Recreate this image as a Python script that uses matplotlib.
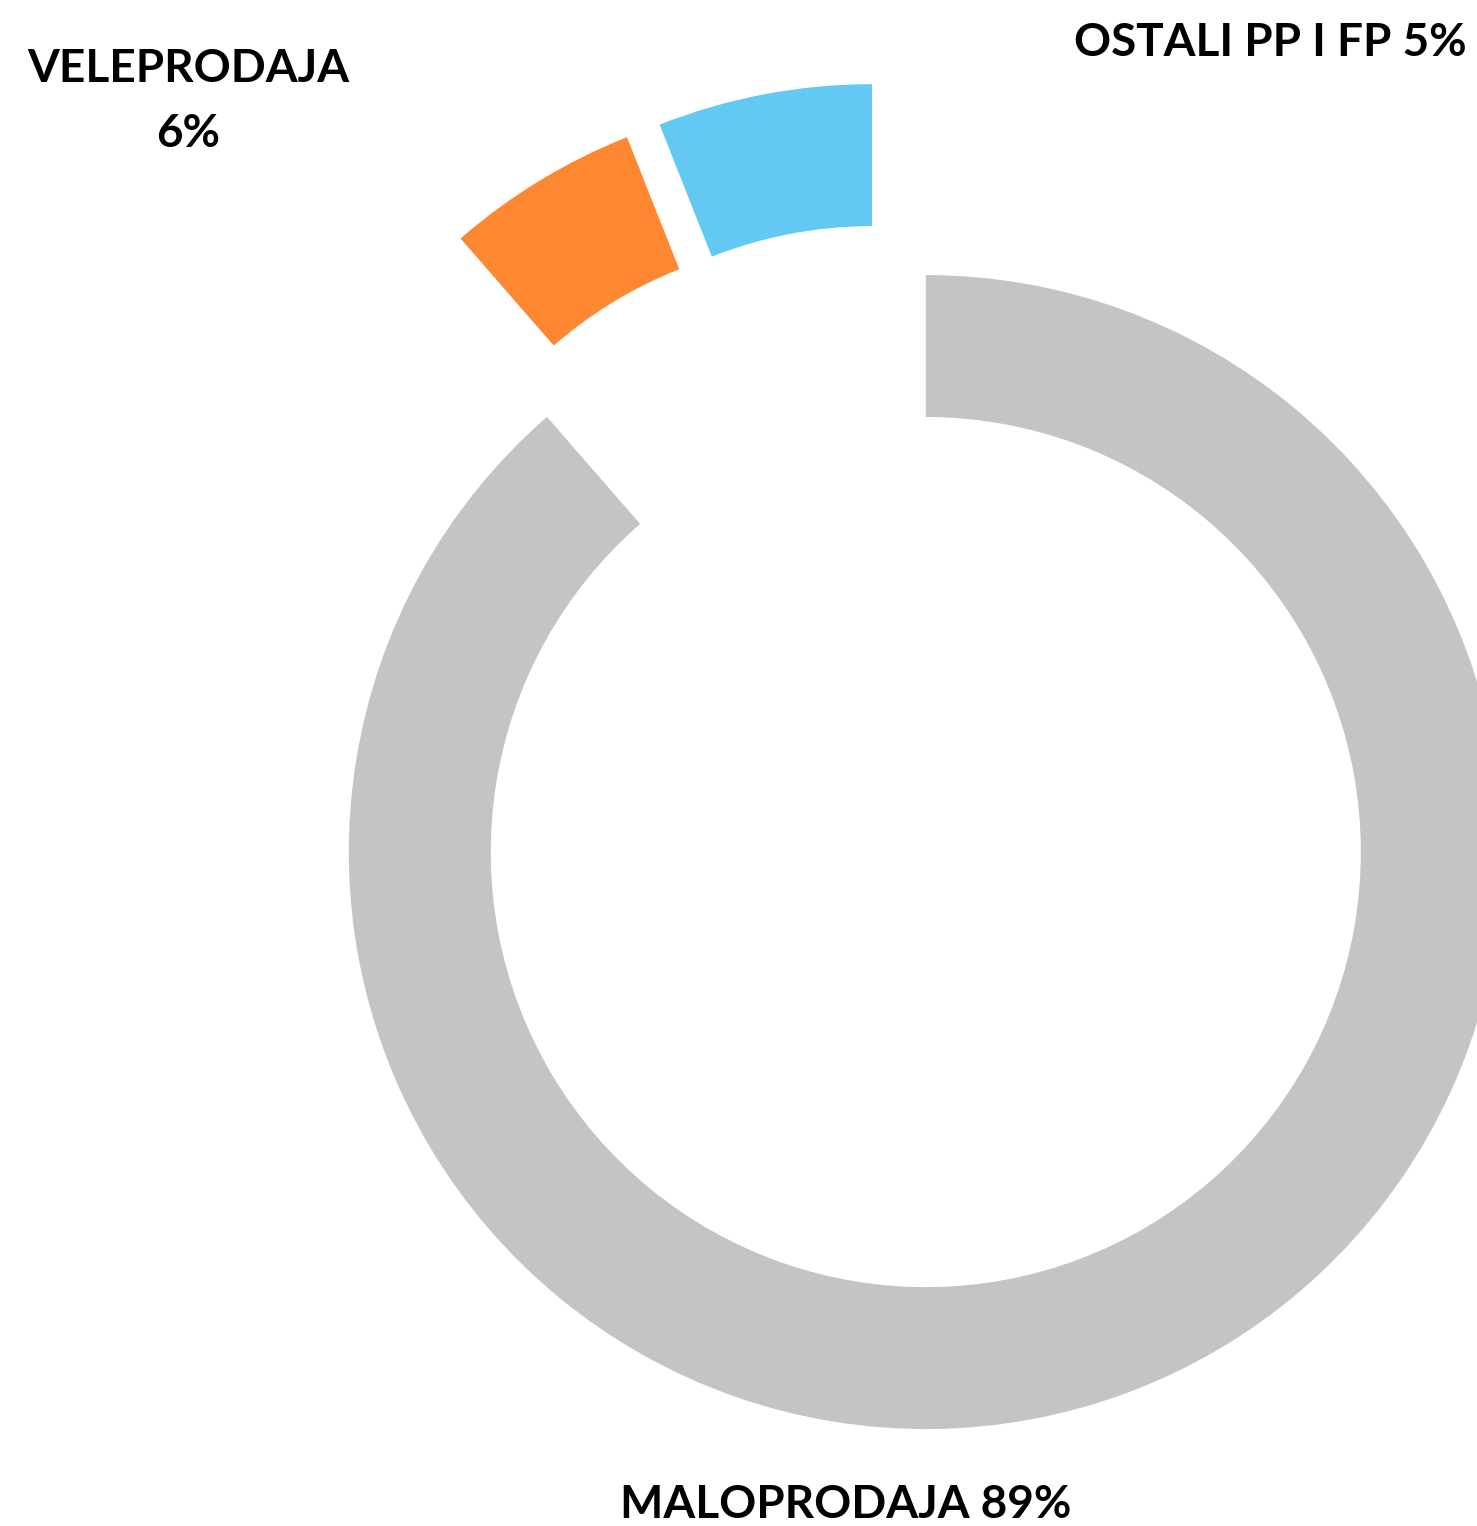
import matplotlib
matplotlib.use("Agg")
import matplotlib.pyplot as plt

# ---- data ----
categories = ["MALOPRODAJA", "OSTALI PP I FP", "VELEPRODAJA"]
values = [88.6, 5.4, 6.0]
colors = ["#c4c4c4", "#FE8731", "#63C9F2"]

W, H = 1477, 1526
fig = plt.figure(figsize=(W / 100, H / 100), dpi=100)
ax = fig.add_axes([0, 0, 1, 1])

wedges, _ = ax.pie(values, colors=colors, startangle=90, counterclock=False,
                   explode=[0.175, 0.17, 0.17], radius=1.0,
                   wedgeprops=dict(width=0.246, linewidth=0))

# place so that the pie centre sits at pixel (890, 757) with 577 px / unit
cx, cy, R = 890.4, 757.5, 577.0
ax.set_aspect("auto")
ax.set_xlim(-cx / R, (W - cx) / R)
ax.set_ylim(-(H - cy) / R, cy / R)
ax.axis("off")

font = dict(family=["Lato", "DejaVu Sans"], fontweight="bold", fontsize=33, color="black")

def put(px, py, s):
    fig.text(px / W, 1 - py / H, s, ha="center", va="center", **font)

pct = [f"{round(v)}%" for v in values]
put(846, 1505, f"{categories[0]} {pct[0]}")
put(1270, 43, f"{categories[1]} {pct[1]}")
put(188, 69, categories[2])
put(188, 134, pct[2])

fig.savefig("out.png", dpi=100, facecolor="white")
